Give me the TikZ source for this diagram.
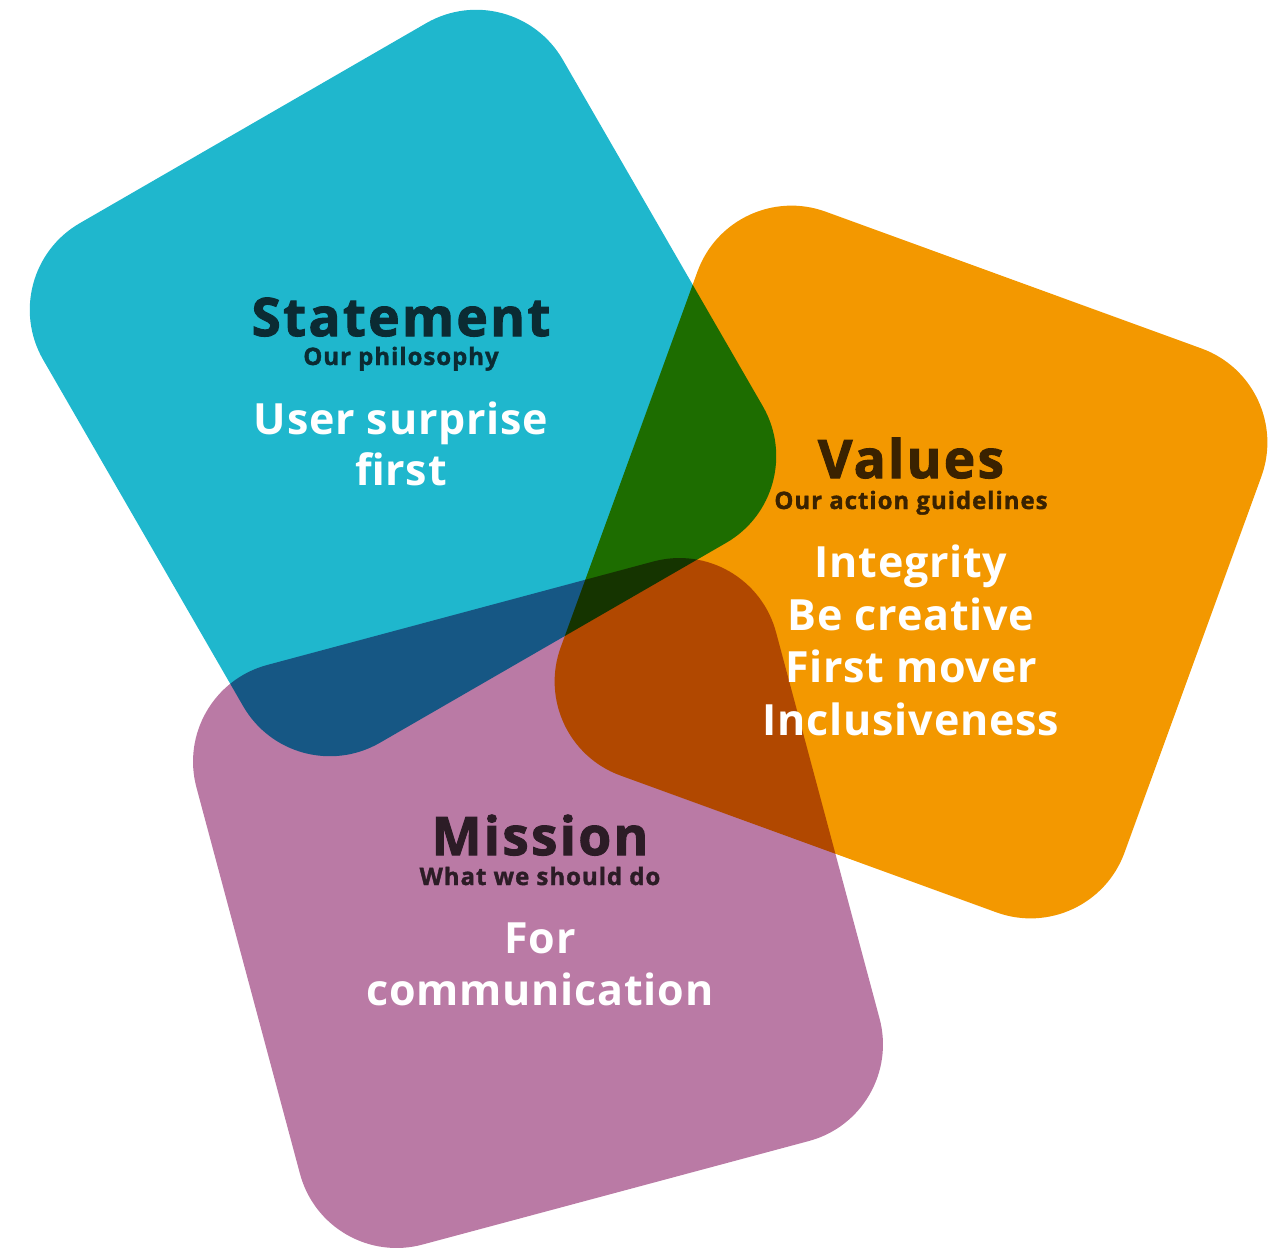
\documentclass[tikz,border=0pt]{standalone}
\usepackage{fontspec}
\setmainfont{Open Sans}
\newfontfamily\heavy{Open Sans}[FakeBold=2, LetterSpace=4.5]
\newfontfamily\heavysmall{Open Sans}[FakeBold=1.4, LetterSpace=4]
\newfontfamily\plainwide{Open Sans}[LetterSpace=1.8]
\usetikzlibrary{calc}

\definecolor{tealfill}{HTML}{1FB7CD}
\definecolor{orangefill}{HTML}{F39800}
\definecolor{plumfill}{HTML}{BA7AA5}
\definecolor{tealink}{HTML}{0B2B33}
\definecolor{orangeink}{HTML}{3A2200}
\definecolor{plumink}{HTML}{2C1C26}

\tikzset{
  tile/.style={rounded corners=50pt},
  headline/.style={anchor=base, inner sep=0pt, font=\heavy\bfseries\fontsize{26.5}{30}\selectfont},
  tagline/.style={anchor=base, inner sep=0pt, font=\heavysmall\bfseries\fontsize{12}{14}\selectfont},
  bodyline/.style={anchor=base, inner sep=0pt, text=white, font=\plainwide\bfseries\fontsize{21.5}{26}\selectfont},
}

\begin{document}
\begin{tikzpicture}[x=0.5pt, y=-0.5pt]
  \useasboundingbox (0,0) rectangle (1278,1248);
  \clip (0,0) rectangle (1278,1248);

  % three rounded squares, overlaps darkened by multiplying the colours
  \begin{scope}[blend group=multiply]
    \fill[tealfill, tile, shift={(403,383)}, rotate=30]
      (-150pt,-150pt) rectangle (150pt,150pt);
    \fill[orangefill, tile, shift={(911,562)}, rotate=-20]
      (-150pt,-150pt) rectangle (150pt,150pt);
    \fill[plumfill, tile, shift={(538,903)}, rotate=15]
      (-150pt,-150pt) rectangle (150pt,150pt);
  \end{scope}

  % Statement
  \node[headline, text=tealink] (st-title) at (401,336) {Statement};
  \node[tagline, text=tealink] (st-sub) at (401,365) {Our philosophy};
  \node[bodyline] (st-l1) at (401,434) {User surprise};
  \node[bodyline] (st-l2) at (401,485) {first};

  % Values
  \node[headline, text=orangeink] (va-title) at (911,478) {Values};
  \node[tagline, text=orangeink] (va-sub) at (911,509) {Our action guidelines};
  \node[bodyline] (va-l1) at (911,577) {Integrity};
  \node[bodyline] (va-l2) at (911,630) {Be creative};
  \node[bodyline] (va-l3) at (911,682) {First mover};
  \node[bodyline] (va-l4) at (911,735) {Inclusiveness};

  % Mission
  \node[headline, text=plumink] (mi-title) at (540,855) {Mission};
  \node[tagline, text=plumink] (mi-sub) at (540,885) {What we should do};
  \node[bodyline] (mi-l1) at (540,953) {For};
  \node[bodyline] (mi-l2) at (540,1005) {communication};
\end{tikzpicture}
\end{document}
